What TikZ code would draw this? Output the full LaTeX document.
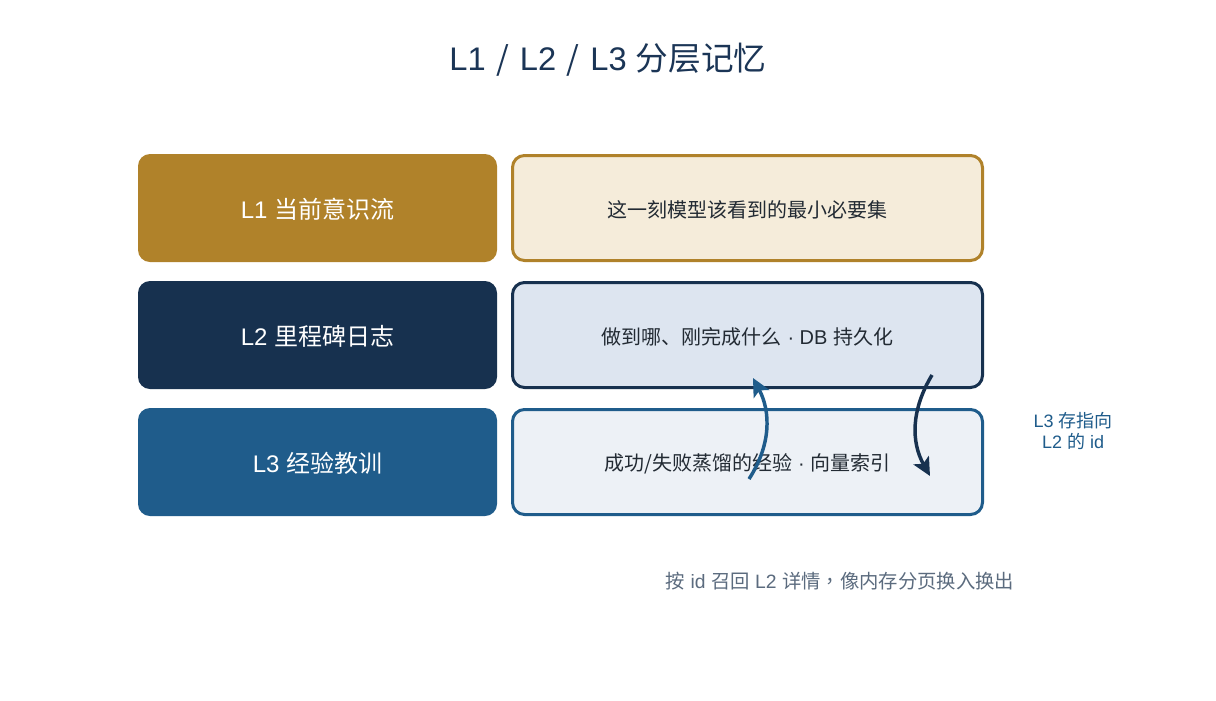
\documentclass[tikz,border=0pt]{standalone}
\usepackage{fontspec}
\setmainfont{Liberation Sans}
\newfontfamily\cjk{Noto Sans CJK SC}
\newfontfamily\cjktc{Noto Sans CJK TC}
\newcommand\zh[1]{{\cjk #1}}
\usetikzlibrary{arrows.meta}
\definecolor{gold}{HTML}{B0822A}
\definecolor{navy}{HTML}{17314F}
\definecolor{steel}{HTML}{1F5C8B}
\definecolor{goldbg}{HTML}{F5ECDA}
\definecolor{navybg}{HTML}{DDE5F0}
\definecolor{steelbg}{HTML}{EDF1F6}
\definecolor{titlecol}{HTML}{1B3556}
\definecolor{bodytxt}{HTML}{222A33}
\definecolor{graytxt}{HTML}{5B6B7E}
\newcommand\tsep{\hspace{8pt}\zh{/}\hspace{8pt}}
\begin{document}
\begin{tikzpicture}[x=0.75pt,y=-0.75pt,
  lbox/.style={rounded corners=9pt, minimum width=269.25pt, minimum height=81pt, inner sep=0pt},
  ltext/.style={text=white, font=\fontsize{18pt}{21pt}\selectfont, inner sep=0pt},
  rbox/.style={rounded corners=9pt, minimum width=352.5pt, minimum height=78.75pt,
    inner sep=0pt, line width=2.25pt},
  rtext/.style={text=bodytxt, font=\fontsize{15pt}{18pt}\selectfont, inner sep=0pt},
  flow/.style={line width=2.6pt, -{Stealth[length=13.5pt,width=13pt,inset=3pt]}}]
\useasboundingbox (0,0) rectangle (1216,700);
\fill[white] (0,0) rectangle (1216,700);

\node[text=titlecol, font=\fontsize{24.5pt}{28pt}\selectfont] (title) at (608,60)
  {L1\tsep L2\tsep L3 \zh{分层记忆}};

\node[lbox, fill=gold] (l1) at (317.5,208) {};
\node[lbox, fill=navy] (l2) at (317.5,335) {};
\node[lbox, fill=steel] (l3) at (317.5,462) {};
\node[ltext] (l1t) at ([yshift=-0.9pt]l1.center) {L1 \zh{当前意识流}};
\node[ltext] (l2t) at ([yshift=-0.9pt]l2.center) {L2 \zh{里程碑日志}};
\node[ltext] (l3t) at ([yshift=-0.9pt]l3.center) {L3 \zh{经验教训}};

\node[rbox, draw=gold, fill=goldbg] (r1) at (747.5,208) {};
\node[rbox, draw=navy, fill=navybg] (r2) at (747.5,335) {};
\node[rbox, draw=steel, fill=steelbg] (r3) at (747.5,462) {};
\node[rtext] (r1t) at ([yshift=-1.4pt]r1.center) {\zh{这一刻模型该看到的最小必要集}};
\node[rtext] (r2t) at ([yshift=-1.4pt]r2.center) {\zh{做到哪、刚完成什么} · DB \zh{持久化}};
\node[rtext] (r3t) at ([yshift=-1.4pt]r3.center) {\zh{成功/失败蒸馏的经验} · \zh{向量索引}};

\coordinate (upA) at (749,479);
\coordinate (upB) at (753,378);
\coordinate (dnA) at (932,375);
\coordinate (dnB) at (930,476);
\draw[flow, draw=steel] (upA) .. controls (771,445) and (771,412) .. (upB);
\draw[flow, draw=navy] (dnA) .. controls (911,410) and (911,442) .. (dnB);

\node[text=steel, align=center, font=\fontsize{13.5pt}{15.75pt}\selectfont] (side) at (1073,431)
  {L3 \zh{存指向}\\L2 \zh{的} id};

\node[text=graytxt, font=\fontsize{14.5pt}{17pt}\selectfont] (note) at (840,581)
  {\zh{按} id \zh{召回} L2 \zh{详情}{\cjktc ，}\zh{像内存分页换入换出}};
\end{tikzpicture}
\end{document}
